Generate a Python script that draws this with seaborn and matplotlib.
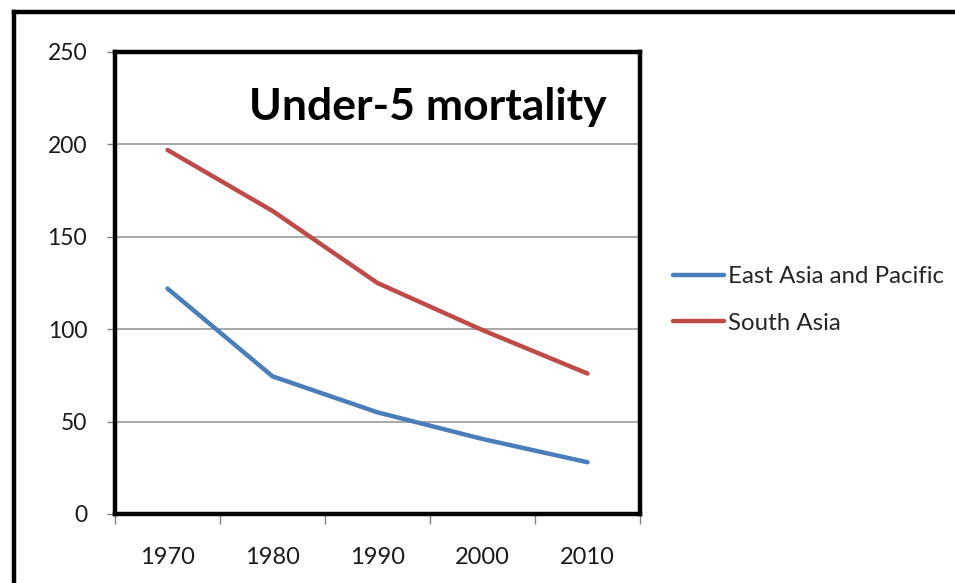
import matplotlib
matplotlib.use("Agg")
import matplotlib.pyplot as plt
import seaborn as sns
import pandas as pd
from matplotlib.ticker import FixedLocator, NullFormatter, FixedFormatter
from matplotlib.lines import Line2D

years = ["1970", "1980", "1990", "2000", "2010"]
east_asia = [122, 74.5, 55, 40.6, 28]
south_asia = [197, 164, 125, 99.5, 76]
series_names = ["East Asia and Pacific", "South Asia"]
y_ticks = [0, 50, 100, 150, 200, 250]

colors = {"East Asia and Pacific": "#4A7EBB", "South Asia": "#BE4B48"}

rows = []
for i, y in enumerate(years):
    rows.append({"pos": i, "year": y, "value": east_asia[i], "series": series_names[0]})
for i, y in enumerate(years):
    rows.append({"pos": i, "year": y, "value": south_asia[i], "series": series_names[1]})
df = pd.DataFrame(rows)

sns.set_theme(style="white")
plt.rcParams["font.family"] = ["Lato", "DejaVu Sans"]

fig = plt.figure(figsize=(9.55, 5.83), dpi=100)
ax = fig.add_axes([115/955, 1 - 514/583, (640-115)/955, (514-52)/583])

sns.lineplot(data=df, x="pos", y="value", hue="series", palette=colors,
             linewidth=3.2, ax=ax, legend=False, solid_capstyle="round")

ax.set_xlim(-0.5, len(years) - 0.5)
ax.set_ylim(0, 250)
ax.set_xlabel("")
ax.set_ylabel("")

# y axis
ax.yaxis.set_major_locator(FixedLocator(y_ticks))
ax.set_yticklabels([str(t) for t in y_ticks])
ax.tick_params(axis="y", which="major", left=True, length=6, width=1,
               color="#808080", pad=14, labelsize=16.5, labelcolor="#1a1a1a")
ax.yaxis.grid(True, color="#999999", linewidth=1.2)
ax.xaxis.grid(False)

# x axis: category boundaries as ticks, labels centered
bounds = [i - 0.5 for i in range(len(years) + 1)]
ax.xaxis.set_major_locator(FixedLocator(bounds))
ax.xaxis.set_major_formatter(NullFormatter())
ax.xaxis.set_minor_locator(FixedLocator(list(range(len(years)))))
ax.xaxis.set_minor_formatter(FixedFormatter(years))
ax.tick_params(axis="x", which="major", bottom=True, length=7, width=1, color="#808080")
ax.tick_params(axis="x", which="minor", bottom=True, length=0, pad=24,
               labelsize=17, labelcolor="#1a1a1a")

for s in ax.spines.values():
    s.set_visible(True)
    s.set_color("black")
    s.set_linewidth(3.2)

ax.text(0.595, 0.88, "Under-5 mortality", transform=ax.transAxes,
        ha="center", va="center", fontsize=32, fontweight="bold", color="black")

handles = [Line2D([0], [0], color=colors[n], linewidth=3.2) for n in series_names]
fig.legend(handles, series_names, loc="center left",
           bbox_to_anchor=(663/955, 1 - 300/583), frameon=False,
           fontsize=17.3, handlelength=2.15, handletextpad=0.15, labelspacing=1.05,
           borderaxespad=0)

# outer frame
fig.add_artist(Line2D([14/955, 1.0], [1 - 12/583, 1 - 12/583], color="black",
                      linewidth=3.2, transform=fig.transFigure, solid_capstyle="projecting"))
fig.add_artist(Line2D([14/955, 14/955], [0, 1 - 12/583], color="black",
                      linewidth=3.2, transform=fig.transFigure, solid_capstyle="projecting"))

fig.savefig("out.png", dpi=100)
